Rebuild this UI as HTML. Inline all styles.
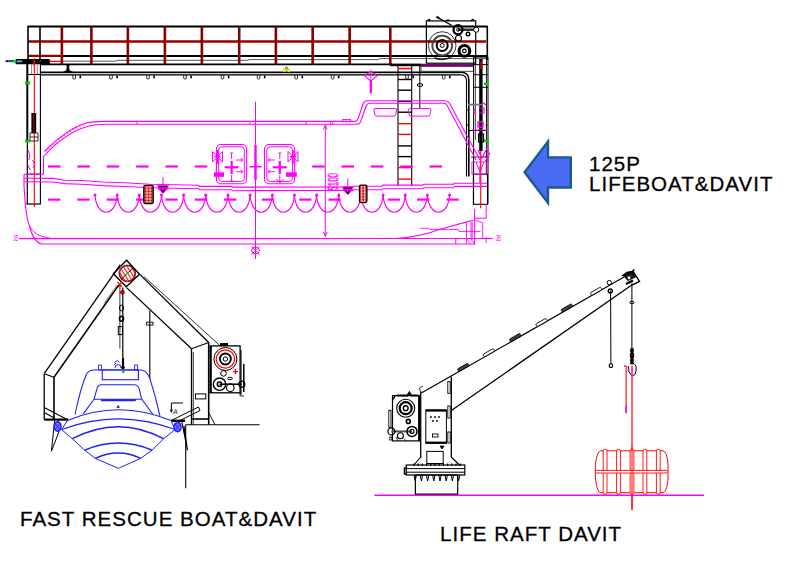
<!DOCTYPE html>
<html><head><meta charset="utf-8"><style>
html,body{margin:0;padding:0;background:#fff;}
body{width:790px;height:568px;overflow:hidden;position:relative;font-family:"Liberation Sans",sans-serif;}
svg{position:absolute;left:0;top:0;}
.t{position:absolute;font-size:20.5px;letter-spacing:1.03px;color:#000;white-space:nowrap;line-height:20px;-webkit-text-stroke:0.3px #000;}
</style></head><body>
<svg width="790" height="568" viewBox="0 0 790 568">
<line x1="28.0" y1="41.5" x2="486.0" y2="41.5" stroke="#9a0000" stroke-width="2.4" />
<line x1="28.0" y1="55.8" x2="62.0" y2="55.8" stroke="#9a0000" stroke-width="2.2" />
<line x1="27.5" y1="26.5" x2="487.5" y2="26.5" stroke="#000" stroke-width="2" />
<line x1="62.0" y1="56.0" x2="487.0" y2="56.0" stroke="#000" stroke-width="1.8" />
<path d="M50,61.2 L116,61.2 L117,60.3 L248,60.3 L249,59.6 L378,59.6 L380,58.6 L487,58.6" stroke="#555" stroke-width="1" fill="none" />
<line x1="40.0" y1="64.4" x2="392.0" y2="64.4" stroke="#000" stroke-width="1.8" />
<line x1="62.0" y1="26.5" x2="62.0" y2="64.5" stroke="#9a0000" stroke-width="2.4" />
<line x1="61.1" y1="27.0" x2="61.1" y2="64.0" stroke="#300" stroke-width="0.6" />
<line x1="91.5" y1="26.5" x2="91.5" y2="64.5" stroke="#9a0000" stroke-width="2.4" />
<line x1="90.6" y1="27.0" x2="90.6" y2="64.0" stroke="#300" stroke-width="0.6" />
<line x1="128.0" y1="26.5" x2="128.0" y2="64.5" stroke="#9a0000" stroke-width="2.4" />
<line x1="127.1" y1="27.0" x2="127.1" y2="64.0" stroke="#300" stroke-width="0.6" />
<line x1="165.0" y1="26.5" x2="165.0" y2="64.5" stroke="#9a0000" stroke-width="2.4" />
<line x1="164.1" y1="27.0" x2="164.1" y2="64.0" stroke="#300" stroke-width="0.6" />
<line x1="202.0" y1="26.5" x2="202.0" y2="64.5" stroke="#9a0000" stroke-width="2.4" />
<line x1="201.1" y1="27.0" x2="201.1" y2="64.0" stroke="#300" stroke-width="0.6" />
<line x1="239.3" y1="26.5" x2="239.3" y2="64.5" stroke="#9a0000" stroke-width="2.4" />
<line x1="238.4" y1="27.0" x2="238.4" y2="64.0" stroke="#300" stroke-width="0.6" />
<line x1="276.0" y1="26.5" x2="276.0" y2="64.5" stroke="#9a0000" stroke-width="2.4" />
<line x1="275.1" y1="27.0" x2="275.1" y2="64.0" stroke="#300" stroke-width="0.6" />
<line x1="312.8" y1="26.5" x2="312.8" y2="64.5" stroke="#9a0000" stroke-width="2.4" />
<line x1="311.9" y1="27.0" x2="311.9" y2="64.0" stroke="#300" stroke-width="0.6" />
<line x1="349.8" y1="26.5" x2="349.8" y2="64.5" stroke="#9a0000" stroke-width="2.4" />
<line x1="348.9" y1="27.0" x2="348.9" y2="64.0" stroke="#300" stroke-width="0.6" />
<line x1="390.4" y1="26.5" x2="390.4" y2="64.5" stroke="#9a0000" stroke-width="2.4" />
<line x1="389.5" y1="27.0" x2="389.5" y2="64.0" stroke="#300" stroke-width="0.6" />
<line x1="28.0" y1="26.0" x2="28.0" y2="64.0" stroke="#000" stroke-width="1.6" />
<line x1="40.0" y1="26.0" x2="40.0" y2="61.0" stroke="#000" stroke-width="1.6" />
<rect x="15.4" y="58.9" width="34.6" height="5.3" rx="1.5" stroke="#000" stroke-width="0" fill="#000" />
<line x1="5.6" y1="61.1" x2="15.4" y2="61.1" stroke="#203050" stroke-width="2.2" />
<line x1="8.0" y1="61.1" x2="12.5" y2="61.1" stroke="#3070c0" stroke-width="1.2" />
<circle cx="14.5" cy="61.1" r="1.5" stroke="#00e000" stroke-width="0" fill="#00e000"/>
<line x1="16.7" y1="61.4" x2="22.1" y2="61.4" stroke="#30d0f0" stroke-width="1.8" />
<line x1="34.1" y1="58.9" x2="34.1" y2="66.0" stroke="#ff0000" stroke-width="1.1" />
<circle cx="50.0" cy="61.2" r="0.9" stroke="#ff0000" stroke-width="0" fill="#ff0000"/>
<circle cx="40.4" cy="61.2" r="0.8" stroke="#ff0000" stroke-width="0" fill="#ff0000"/>
<line x1="50.0" y1="61.6" x2="62.0" y2="61.6" stroke="#ff0000" stroke-width="1" />
<line x1="31.6" y1="64.0" x2="31.6" y2="74.5" stroke="#888" stroke-width="1" />
<line x1="37.3" y1="64.0" x2="37.3" y2="74.5" stroke="#888" stroke-width="1" />
<rect x="41.0" y="72.8" width="419.0" height="2.0" rx="0" stroke="#000" stroke-width="0" fill="#d0d0d0" />
<path d="M41,72.3 L461,72.3 Q468.8,72.3 468.8,80 L468.8,176.5" stroke="#000" stroke-width="1.6" fill="none" />
<path d="M41,74.9 L460.5,74.9 Q466.5,74.9 466.5,81 L466.5,176.5" stroke="#000" stroke-width="1.1" fill="none" />
<circle cx="67.9" cy="65.3" r="1.5" stroke="#000" stroke-width="0" fill="#000"/>
<path d="M63.5,72 Q67,71.5 67,68 L67,66 L68.8,66 L68.8,68 Q68.8,71.5 72.5,72 Z" stroke="#000" stroke-width="0.6" fill="#000" />
<path d="M72.9,75 L72.9,78.5 Q74.2,79.8 75.5,78.5 L75.5,75" stroke="#000" stroke-width="0.8" fill="none" />
<rect x="79.5" y="75.5" width="1.6" height="2.8" rx="0" stroke="#000" stroke-width="0" fill="#000" />
<path d="M109.7,75 L109.7,78.5 Q111,79.8 112.3,78.5 L112.3,75" stroke="#000" stroke-width="0.8" fill="none" />
<rect x="116.3" y="75.5" width="1.6" height="2.8" rx="0" stroke="#000" stroke-width="0" fill="#000" />
<path d="M146.7,75 L146.7,78.5 Q148,79.8 149.3,78.5 L149.3,75" stroke="#000" stroke-width="0.8" fill="none" />
<rect x="153.3" y="75.5" width="1.6" height="2.8" rx="0" stroke="#000" stroke-width="0" fill="#000" />
<path d="M183.7,75 L183.7,78.5 Q185,79.8 186.3,78.5 L186.3,75" stroke="#000" stroke-width="0.8" fill="none" />
<rect x="190.3" y="75.5" width="1.6" height="2.8" rx="0" stroke="#000" stroke-width="0" fill="#000" />
<path d="M221.2,75 L221.2,78.5 Q222.5,79.8 223.8,78.5 L223.8,75" stroke="#000" stroke-width="0.8" fill="none" />
<rect x="227.8" y="75.5" width="1.6" height="2.8" rx="0" stroke="#000" stroke-width="0" fill="#000" />
<path d="M257.3,75 L257.3,78.5 Q258.6,79.8 259.90000000000003,78.5 L259.90000000000003,75" stroke="#000" stroke-width="0.8" fill="none" />
<rect x="263.9" y="75.5" width="1.6" height="2.8" rx="0" stroke="#000" stroke-width="0" fill="#000" />
<path d="M294.9,75 L294.9,78.5 Q296.2,79.8 297.5,78.5 L297.5,75" stroke="#000" stroke-width="0.8" fill="none" />
<rect x="301.5" y="75.5" width="1.6" height="2.8" rx="0" stroke="#000" stroke-width="0" fill="#000" />
<path d="M331.3,75 L331.3,78.5 Q332.6,79.8 333.90000000000003,78.5 L333.90000000000003,75" stroke="#000" stroke-width="0.8" fill="none" />
<rect x="337.9" y="75.5" width="1.6" height="2.8" rx="0" stroke="#000" stroke-width="0" fill="#000" />
<path d="M405.7,75 L405.7,78.5 Q407,79.8 408.3,78.5 L408.3,75" stroke="#000" stroke-width="0.8" fill="none" />
<rect x="412.3" y="75.5" width="1.6" height="2.8" rx="0" stroke="#000" stroke-width="0" fill="#000" />
<path d="M442.4,75 L442.4,78.5 Q443.7,79.8 445.0,78.5 L445.0,75" stroke="#000" stroke-width="0.8" fill="none" />
<rect x="449.0" y="75.5" width="1.6" height="2.8" rx="0" stroke="#000" stroke-width="0" fill="#000" />
<path d="M283.6,68.6 L289.4,72 L289.4,68.6 L283.6,72 Z" stroke="#e8e000" stroke-width="1" fill="#f0f000" />
<circle cx="286.5" cy="68.0" r="1.0" stroke="#000" stroke-width="0.6" fill="none"/>
<path d="M364.5,76 Q367,73 370.8,72 Q374.6,73 377,76 L370.8,81 Z" stroke="#ff00ff" stroke-width="1.1" fill="none" />
<line x1="370.8" y1="69.5" x2="370.8" y2="82.0" stroke="#ff00ff" stroke-width="0.9" />
<line x1="370.8" y1="80.0" x2="370.8" y2="93.4" stroke="#ff00ff" stroke-width="2.3" />
<rect x="426.4" y="20.9" width="49.3" height="42.3" rx="0" stroke="#000" stroke-width="1.2" fill="none" />
<path d="M427.5,20.9 Q429,18 430.5,20.9 M471.2,20.9 Q472.7,18 474.2,20.9 M446.5,20.9 Q448,18.8 449.5,20.9" stroke="#000" stroke-width="1.2" fill="none" />
<line x1="437.3" y1="17.4" x2="451.6" y2="25.3" stroke="#000" stroke-width="1.3" />
<path d="M436.5,16.5 L439,18.5" stroke="#000" stroke-width="2" fill="none" />
<circle cx="442.2" cy="45.5" r="13.8" stroke="#000" stroke-width="0.8" fill="none"/>
<circle cx="442.2" cy="45.5" r="9.9" stroke="#444" stroke-width="1.8" fill="none"/>
<circle cx="442.2" cy="45.5" r="5.5" stroke="#000" stroke-width="2" fill="none"/>
<circle cx="442.2" cy="45.5" r="2.0" stroke="#000" stroke-width="1" fill="none"/>
<path d="M434,58 Q442,62 452,57" stroke="#000" stroke-width="0.8" fill="none"/>
<line x1="458.0" y1="29.7" x2="476.0" y2="29.7" stroke="#333" stroke-width="2.6" />
<circle cx="458.0" cy="29.7" r="4.5" stroke="#000" stroke-width="2.2" fill="none"/>
<circle cx="458.0" cy="29.7" r="1.5" stroke="#000" stroke-width="1" fill="none"/>
<circle cx="476.2" cy="29.7" r="2.6" stroke="#000" stroke-width="1" fill="#fff"/>
<circle cx="468.0" cy="34.0" r="1.8" stroke="#000" stroke-width="1.4" fill="none"/>
<circle cx="458.5" cy="38.3" r="3.0" stroke="#000" stroke-width="1.1" fill="none"/>
<circle cx="464.4" cy="50.9" r="5.0" stroke="#000" stroke-width="2.4" fill="none"/>
<circle cx="464.4" cy="50.9" r="6.3" stroke="#000" stroke-width="1.2" fill="none"/>
<circle cx="464.4" cy="50.9" r="1.8" stroke="#000" stroke-width="1.2" fill="none"/>
<line x1="487.3" y1="26.0" x2="487.3" y2="60.0" stroke="#000" stroke-width="1.6" />
<line x1="390.0" y1="64.9" x2="421.0" y2="64.9" stroke="#000" stroke-width="2.6" />
<line x1="421.0" y1="64.9" x2="473.5" y2="64.9" stroke="#800080" stroke-width="2.4" />
<rect x="421.0" y="66.4" width="52.4" height="4.9" rx="0" stroke="#333" stroke-width="0.9" fill="none" />
<line x1="419.7" y1="64.7" x2="419.7" y2="72.3" stroke="#000" stroke-width="1" />
<line x1="473.6" y1="64.7" x2="473.6" y2="72.3" stroke="#000" stroke-width="1" />
<line x1="401.0" y1="68.5" x2="412.0" y2="68.5" stroke="#ff0000" stroke-width="1.2" />
<line x1="398.0" y1="66.0" x2="398.0" y2="186.0" stroke="#000" stroke-width="1.1" />
<line x1="411.7" y1="66.0" x2="411.7" y2="186.0" stroke="#000" stroke-width="1.1" />
<line x1="398.0" y1="68.5" x2="411.7" y2="68.5" stroke="#ff0000" stroke-width="1.4" />
<line x1="398.0" y1="79.5" x2="411.7" y2="79.5" stroke="#000" stroke-width="1.4" />
<line x1="398.0" y1="90.2" x2="411.7" y2="90.2" stroke="#000" stroke-width="1.4" />
<line x1="398.0" y1="101.2" x2="411.7" y2="101.2" stroke="#000" stroke-width="1.4" />
<line x1="398.0" y1="112.2" x2="411.7" y2="112.2" stroke="#000" stroke-width="1.4" />
<line x1="398.0" y1="123.7" x2="411.7" y2="123.7" stroke="#ff0000" stroke-width="1.4" />
<line x1="398.0" y1="134.4" x2="411.7" y2="134.4" stroke="#ff0000" stroke-width="1.4" />
<line x1="398.0" y1="145.9" x2="411.7" y2="145.9" stroke="#000" stroke-width="1.4" />
<line x1="398.0" y1="156.6" x2="411.7" y2="156.6" stroke="#000" stroke-width="1.4" />
<line x1="398.0" y1="167.6" x2="411.7" y2="167.6" stroke="#ff0000" stroke-width="1.4" />
<line x1="398.0" y1="179.1" x2="411.7" y2="179.1" stroke="#ff0000" stroke-width="1.4" />
<line x1="419.8" y1="72.0" x2="419.8" y2="108.0" stroke="#000" stroke-width="1" />
<ellipse cx="420" cy="85" rx="2.8" ry="1.5" stroke="#000" stroke-width="1" fill="none"/>
<line x1="27.3" y1="64.0" x2="27.3" y2="140.0" stroke="#000" stroke-width="2" />
<line x1="27.3" y1="140.0" x2="27.3" y2="204.0" stroke="#000" stroke-width="1.2" />
<line x1="40.4" y1="64.0" x2="40.4" y2="204.0" stroke="#000" stroke-width="1.1" />
<line x1="26.5" y1="74.5" x2="40.5" y2="74.5" stroke="#000" stroke-width="1" />
<line x1="26.5" y1="204.0" x2="40.8" y2="204.0" stroke="#000" stroke-width="1.2" />
<line x1="26.5" y1="174.0" x2="40.8" y2="174.0" stroke="#000" stroke-width="0.8" />
<line x1="34.3" y1="58.0" x2="34.3" y2="207.0" stroke="#ff0000" stroke-width="1.1" />
<rect x="31.4" y="113.0" width="4.8" height="20.0" rx="0" stroke="#000" stroke-width="0" fill="#000" />
<line x1="33.8" y1="113.0" x2="33.8" y2="133.0" stroke="#800000" stroke-width="1.5" />
<path d="M30,133 L38,133 L38,141 L30,141 Z M30,137 L38,137" stroke="#000" stroke-width="0.8" fill="none" />
<path d="M25,142 L30,140 M25,140 L30,142" stroke="#00d000" stroke-width="1.5" fill="none" />
<path d="M25,84 L30,82 M25,82 L30,84" stroke="#00d000" stroke-width="1.5" fill="none" />
<path d="M28,150 Q31,155 29,160 M32,160 Q36,163 33,168 M28,165 L30,170" stroke="#ff00ff" stroke-width="1" fill="none" />
<line x1="473.6" y1="57.0" x2="473.6" y2="204.0" stroke="#000" stroke-width="1" />
<line x1="475.4" y1="57.0" x2="475.4" y2="140.0" stroke="#000" stroke-width="0.7" />
<line x1="480.9" y1="59.0" x2="480.9" y2="151.0" stroke="#000" stroke-width="3.4" />
<rect x="478.5" y="134.0" width="5.0" height="8.0" rx="0" stroke="#000" stroke-width="1.1" fill="none" />
<line x1="486.5" y1="57.0" x2="486.5" y2="175.0" stroke="#000" stroke-width="0.9" />
<line x1="488.0" y1="57.0" x2="488.0" y2="204.0" stroke="#000" stroke-width="1" />
<line x1="474.0" y1="57.1" x2="488.0" y2="57.1" stroke="#000" stroke-width="1" />
<line x1="474.0" y1="64.6" x2="488.0" y2="64.6" stroke="#000" stroke-width="1" />
<line x1="474.0" y1="74.7" x2="488.0" y2="74.7" stroke="#000" stroke-width="1" />
<line x1="474.0" y1="87.3" x2="488.0" y2="87.3" stroke="#000" stroke-width="1" />
<line x1="468.0" y1="104.6" x2="482.0" y2="104.6" stroke="#777" stroke-width="1.8" />
<line x1="469.0" y1="130.5" x2="486.0" y2="130.5" stroke="#000" stroke-width="1" />
<line x1="471.0" y1="157.0" x2="488.0" y2="157.0" stroke="#000" stroke-width="0.8" />
<rect x="473.4" y="174.2" width="14.1" height="30.1" rx="0" stroke="#000" stroke-width="1.1" fill="none" />
<line x1="480.7" y1="151.0" x2="480.7" y2="208.2" stroke="#ff0000" stroke-width="1.1" />
<line x1="481.0" y1="61.5" x2="481.0" y2="69.0" stroke="#ff0000" stroke-width="1.3" />
<path d="M484,84.5 L489,83 M484,83 L489,84.5" stroke="#00d000" stroke-width="1.6" fill="none" />
<path d="M484,141.5 L489,140 M484,140 L489,141.5" stroke="#00d000" stroke-width="1.6" fill="none" />
<path d="M476,108 L474,110 L474,113 L476,114 M479,108 L484,108 L484,113 L479,113 M482,102 L486,105" stroke="#ff00ff" stroke-width="1.2" fill="none" />
<path d="M478,122 L483,122 L483,127 L478,127 Z" stroke="#ff00ff" stroke-width="1.4" fill="none" />
<path d="M472,130 L487,130" stroke="#ff00ff" stroke-width="1" fill="none" />
<circle cx="468.0" cy="110.0" r="0.8" stroke="#000" stroke-width="0" fill="#000"/>
<circle cx="468.0" cy="125.0" r="0.8" stroke="#000" stroke-width="0" fill="#000"/>
<circle cx="486.5" cy="110.0" r="0.8" stroke="#000" stroke-width="0" fill="#000"/>
<circle cx="486.5" cy="125.0" r="0.8" stroke="#000" stroke-width="0" fill="#000"/>
<path d="M478,150 L482,158 L486,150 M486,148 L490,155" stroke="#ff00ff" stroke-width="1.3" fill="none" />
<path d="M44.5,151.5 C55,141 70,128 86,123 Q92,121.4 104,121.4 L355,121.4 Q357,121.4 358,119 L363,104 Q364,100.8 367,100.8 L445,100.8 Q448,100.8 449.5,103.2 L480,160" stroke="#ff00ff" stroke-width="1.1" fill="none" />
<path d="M43.5,174 L43.5,156.5 C53,146 72,128 96,124.8 Q100,124.3 106,124.3 L357,124.3 Q359.5,124.3 360.5,122 L366,106.5 Q367,103.2 370,103.2 L443.5,103.2 Q446,103.2 447,105.2 L476,160" stroke="#ff00ff" stroke-width="1.1" fill="none" />
<line x1="45.2" y1="149.6" x2="47.4" y2="151.8" stroke="#ff00ff" stroke-width="0.8" />
<line x1="47.5" y1="147.4" x2="49.7" y2="149.6" stroke="#ff00ff" stroke-width="0.8" />
<line x1="49.8" y1="145.2" x2="52.0" y2="147.4" stroke="#ff00ff" stroke-width="0.8" />
<line x1="52.3" y1="142.9" x2="54.5" y2="145.1" stroke="#ff00ff" stroke-width="0.8" />
<line x1="54.9" y1="140.7" x2="57.1" y2="142.9" stroke="#ff00ff" stroke-width="0.8" />
<line x1="57.6" y1="138.4" x2="59.8" y2="140.6" stroke="#ff00ff" stroke-width="0.8" />
<line x1="60.4" y1="136.2" x2="62.6" y2="138.4" stroke="#ff00ff" stroke-width="0.8" />
<line x1="63.3" y1="134.1" x2="65.5" y2="136.3" stroke="#ff00ff" stroke-width="0.8" />
<line x1="66.2" y1="132.0" x2="68.4" y2="134.2" stroke="#ff00ff" stroke-width="0.8" />
<line x1="69.2" y1="130.1" x2="71.4" y2="132.3" stroke="#ff00ff" stroke-width="0.8" />
<line x1="72.3" y1="128.3" x2="74.5" y2="130.5" stroke="#ff00ff" stroke-width="0.8" />
<line x1="75.4" y1="126.6" x2="77.6" y2="128.8" stroke="#ff00ff" stroke-width="0.8" />
<line x1="78.6" y1="125.0" x2="80.8" y2="127.2" stroke="#ff00ff" stroke-width="0.8" />
<line x1="81.8" y1="123.7" x2="84.0" y2="125.9" stroke="#ff00ff" stroke-width="0.8" />
<path d="M471.9,162 L486.2,162 L486.2,174.1 L471.9,174.1 Z" stroke="#ff00ff" stroke-width="0.9" fill="none" />
<path d="M476,162 L480,172 L484,162 M479.8,166 L479.8,183" stroke="#ff00ff" stroke-width="1" fill="none" />
<path d="M485,156 L489,161 M485,161 L489,156" stroke="#ff00ff" stroke-width="1.2" fill="none" />
<path d="M375,108.5 L395.5,108.5 Q397,108.5 396.6,110 L395.6,115 Q395.4,116.1 394,116.1 L376.5,116.1 Q375.1,116.1 374.9,115 L374,110 Q373.8,108.5 375,108.5 Z" stroke="#ff00ff" stroke-width="1" fill="none" />
<path d="M409.3,108.5 L429.8,108.5 Q431.2,108.5 430.9,110 L429.9,115 Q429.7,116.1 428.3,116.1 L410.8,116.1 Q409.4,116.1 409.2,115 L408.3,110 Q408.1,108.5 409.3,108.5 Z" stroke="#ff00ff" stroke-width="1" fill="none" />
<rect x="342.6" y="119.5" width="8.0" height="2.2" rx="0" stroke="#ff00ff" stroke-width="0.9" fill="none" />
<line x1="137.0" y1="121.4" x2="137.0" y2="124.3" stroke="#ff00ff" stroke-width="0.9" />
<line x1="250.0" y1="121.4" x2="250.0" y2="124.3" stroke="#ff00ff" stroke-width="0.9" />
<line x1="306.0" y1="121.4" x2="306.0" y2="124.3" stroke="#ff00ff" stroke-width="0.9" />
<rect x="330.3" y="121.6" width="2.6" height="2.6" rx="0" stroke="#ff00ff" stroke-width="0.8" fill="none" />
<path d="M24,174.4 L43.5,174.4" stroke="#ff00ff" stroke-width="1.1" fill="none" />
<path d="M24,178.3 L53,178.4 L65,180.2 L81,180.5 L103,182 L125,182.7 L150,184.3 L198.6,185.3 L199.5,186.4 L231.6,186.4 L232.5,187.1 L352.9,187 L353.8,186.2 L382,186.2 L383,185.1 L423,185.1 L424,184.2 L453.7,184.2 L454.6,183.3 L487.3,183.3" stroke="#ff00ff" stroke-width="1.1" fill="none" />
<path d="M24,181.7 L53,182 L65,183.6 L81,184.2 L103,185.6 L125,186.5 L150,187.7 L198.6,188.7 L199.5,189.8 L231.6,189.8 L232.5,190.7 L352.9,190.5 L353.8,189.8 L382,189.8 L383,188.7 L423,188.6 L424,187.7 L453.7,187.7 L454.6,186.4 L487.3,186.4" stroke="#ff00ff" stroke-width="1.1" fill="none" />
<path d="M24,174.4 L24,185 C25,205 27,220 29.5,226 C32,236 36,243 42,244" stroke="#ff00ff" stroke-width="1.1" fill="none" />
<path d="M29.5,226 C33,233 40,237 50.5,238.2" stroke="#ff00ff" stroke-width="1" fill="none" />
<line x1="42.0" y1="244.0" x2="475.0" y2="244.0" stroke="#ff00ff" stroke-width="1.2" />
<path d="M19,238.6 L395.7,238.5 Q420,237 440,229.2 L470.5,220.8" stroke="#ff00ff" stroke-width="1.2" fill="none" />
<path d="M420.5,228.3 L428.5,228.3 L429.5,229.4 L458,229.4 L459,231.4 L480.6,231.4" stroke="#ff00ff" stroke-width="0.9" fill="none" />
<line x1="395.0" y1="238.5" x2="492.8" y2="238.5" stroke="#ff00ff" stroke-width="1.1" />
<line x1="455.8" y1="238.5" x2="455.8" y2="244.0" stroke="#ff00ff" stroke-width="1" />
<path d="M486.2,204 L486.2,218.2 L474.6,218.2" stroke="#ff00ff" stroke-width="1" fill="none" />
<line x1="474.6" y1="209.1" x2="474.6" y2="245.0" stroke="#ff00ff" stroke-width="1" />
<path d="M466.5,222.5 L466.5,244 M471,221.5 L471,236 Q471,241 474.6,244 M472.2,221.5 L472.2,238" stroke="#ff00ff" stroke-width="0.9" fill="none" />
<path d="M470.5,220.8 L474.6,220 L482.7,222.8 L482.7,239" stroke="#ff00ff" stroke-width="0.9" fill="none" />
<line x1="486.2" y1="237.0" x2="486.2" y2="243.0" stroke="#ff00ff" stroke-width="0.9" />
<path d="M466.5,238.5 L470,243.5" stroke="#ff00ff" stroke-width="0.8" fill="none" />
<text x="13" y="240.8" font-family="Liberation Sans, sans-serif" font-size="8.5" fill="#ff00ff" textLength="5.2" lengthAdjust="spacingAndGlyphs">JB</text>
<text x="495.5" y="241" font-family="Liberation Sans, sans-serif" font-size="8.5" fill="#ff00ff" textLength="5.5" lengthAdjust="spacingAndGlyphs">JB</text>
<line x1="48.0" y1="166.5" x2="60.5" y2="166.5" stroke="#ff00ff" stroke-width="2.2" />
<line x1="77.3" y1="166.5" x2="89.8" y2="166.5" stroke="#ff00ff" stroke-width="2.2" />
<line x1="106.7" y1="166.5" x2="119.2" y2="166.5" stroke="#ff00ff" stroke-width="2.2" />
<line x1="136.1" y1="166.5" x2="148.6" y2="166.5" stroke="#ff00ff" stroke-width="2.2" />
<line x1="165.4" y1="166.5" x2="177.9" y2="166.5" stroke="#ff00ff" stroke-width="2.2" />
<line x1="194.8" y1="166.5" x2="207.2" y2="166.5" stroke="#ff00ff" stroke-width="2.2" />
<line x1="312.2" y1="166.5" x2="324.7" y2="166.5" stroke="#ff00ff" stroke-width="2.2" />
<line x1="341.5" y1="166.5" x2="354.0" y2="166.5" stroke="#ff00ff" stroke-width="2.2" />
<line x1="370.9" y1="166.5" x2="383.4" y2="166.5" stroke="#ff00ff" stroke-width="2.2" />
<line x1="400.2" y1="166.5" x2="412.7" y2="166.5" stroke="#ff00ff" stroke-width="2.2" />
<line x1="429.6" y1="166.5" x2="442.1" y2="166.5" stroke="#ff00ff" stroke-width="2.2" />
<line x1="48.0" y1="199.6" x2="60.3" y2="199.6" stroke="#ff00ff" stroke-width="2.2" />
<line x1="77.3" y1="199.6" x2="89.6" y2="199.6" stroke="#ff00ff" stroke-width="2.2" />
<line x1="106.7" y1="199.6" x2="119.0" y2="199.6" stroke="#ff00ff" stroke-width="2.2" />
<line x1="136.1" y1="199.6" x2="148.4" y2="199.6" stroke="#ff00ff" stroke-width="2.2" />
<line x1="165.4" y1="199.6" x2="177.7" y2="199.6" stroke="#ff00ff" stroke-width="2.2" />
<line x1="194.8" y1="199.6" x2="207.1" y2="199.6" stroke="#ff00ff" stroke-width="2.2" />
<line x1="224.1" y1="199.6" x2="236.4" y2="199.6" stroke="#ff00ff" stroke-width="2.2" />
<line x1="261.8" y1="199.6" x2="274.0" y2="199.6" stroke="#ff00ff" stroke-width="2.2" />
<line x1="299.2" y1="199.6" x2="311.4" y2="199.6" stroke="#ff00ff" stroke-width="2.2" />
<line x1="328.5" y1="199.6" x2="340.7" y2="199.6" stroke="#ff00ff" stroke-width="2.2" />
<line x1="387.8" y1="199.6" x2="400.0" y2="199.6" stroke="#ff00ff" stroke-width="2.2" />
<line x1="417.0" y1="199.6" x2="429.2" y2="199.6" stroke="#ff00ff" stroke-width="2.2" />
<line x1="446.5" y1="199.6" x2="458.7" y2="199.6" stroke="#ff00ff" stroke-width="2.2" />
<path d="M95.0,195 C96.5,218 115.7,218 117.2,195" stroke="#ff00ff" stroke-width="1.2" fill="none" />
<path d="M117.2,195 C118.7,218 137.8,218 139.3,195" stroke="#ff00ff" stroke-width="1.2" fill="none" />
<path d="M139.3,195 C140.8,218 160.0,218 161.5,195" stroke="#ff00ff" stroke-width="1.2" fill="none" />
<path d="M161.5,195 C163.0,218 182.1,218 183.6,195" stroke="#ff00ff" stroke-width="1.2" fill="none" />
<path d="M183.6,195 C185.1,218 204.3,218 205.8,195" stroke="#ff00ff" stroke-width="1.2" fill="none" />
<path d="M205.8,195 C207.3,218 226.5,218 228.0,195" stroke="#ff00ff" stroke-width="1.2" fill="none" />
<path d="M228.0,195 C229.5,218 248.6,218 250.1,195" stroke="#ff00ff" stroke-width="1.2" fill="none" />
<path d="M250.1,195 C251.6,218 270.8,218 272.3,195" stroke="#ff00ff" stroke-width="1.2" fill="none" />
<path d="M272.3,195 C273.8,218 292.9,218 294.4,195" stroke="#ff00ff" stroke-width="1.2" fill="none" />
<path d="M294.4,195 C295.9,218 315.1,218 316.6,195" stroke="#ff00ff" stroke-width="1.2" fill="none" />
<path d="M316.6,195 C318.1,218 337.3,218 338.8,195" stroke="#ff00ff" stroke-width="1.2" fill="none" />
<path d="M338.8,195 C340.3,218 359.4,218 360.9,195" stroke="#ff00ff" stroke-width="1.2" fill="none" />
<path d="M360.9,195 C362.4,218 381.6,218 383.1,195" stroke="#ff00ff" stroke-width="1.2" fill="none" />
<path d="M383.1,195 C384.6,218 403.7,218 405.2,195" stroke="#ff00ff" stroke-width="1.2" fill="none" />
<path d="M405.2,195 C406.7,218 425.9,218 427.4,195" stroke="#ff00ff" stroke-width="1.2" fill="none" />
<path d="M427.4,195 C428.9,218 448.1,218 449.6,195" stroke="#ff00ff" stroke-width="1.2" fill="none" />
<circle cx="95.0" cy="195.0" r="1.5" stroke="#ff00ff" stroke-width="0" fill="#ff00ff"/>
<circle cx="117.2" cy="195.0" r="1.5" stroke="#ff00ff" stroke-width="0" fill="#ff00ff"/>
<circle cx="139.3" cy="195.0" r="1.5" stroke="#ff00ff" stroke-width="0" fill="#ff00ff"/>
<circle cx="161.5" cy="195.0" r="1.5" stroke="#ff00ff" stroke-width="0" fill="#ff00ff"/>
<circle cx="183.6" cy="195.0" r="1.5" stroke="#ff00ff" stroke-width="0" fill="#ff00ff"/>
<circle cx="205.8" cy="195.0" r="1.5" stroke="#ff00ff" stroke-width="0" fill="#ff00ff"/>
<circle cx="228.0" cy="195.0" r="1.5" stroke="#ff00ff" stroke-width="0" fill="#ff00ff"/>
<circle cx="250.1" cy="195.0" r="1.5" stroke="#ff00ff" stroke-width="0" fill="#ff00ff"/>
<circle cx="272.3" cy="195.0" r="1.5" stroke="#ff00ff" stroke-width="0" fill="#ff00ff"/>
<circle cx="294.4" cy="195.0" r="1.5" stroke="#ff00ff" stroke-width="0" fill="#ff00ff"/>
<circle cx="316.6" cy="195.0" r="1.5" stroke="#ff00ff" stroke-width="0" fill="#ff00ff"/>
<circle cx="338.8" cy="195.0" r="1.5" stroke="#ff00ff" stroke-width="0" fill="#ff00ff"/>
<circle cx="360.9" cy="195.0" r="1.5" stroke="#ff00ff" stroke-width="0" fill="#ff00ff"/>
<circle cx="383.1" cy="195.0" r="1.5" stroke="#ff00ff" stroke-width="0" fill="#ff00ff"/>
<circle cx="405.2" cy="195.0" r="1.5" stroke="#ff00ff" stroke-width="0" fill="#ff00ff"/>
<circle cx="427.4" cy="195.0" r="1.5" stroke="#ff00ff" stroke-width="0" fill="#ff00ff"/>
<circle cx="449.6" cy="195.0" r="1.5" stroke="#ff00ff" stroke-width="0" fill="#ff00ff"/>
<rect x="216.4" y="144.5" width="30.2" height="39.2" rx="4.5" stroke="#ff00ff" stroke-width="1.1" fill="none" />
<rect x="218.7" y="146.8" width="25.6" height="34.6" rx="3" stroke="#ff00ff" stroke-width="1" fill="none" />
<rect x="264.5" y="144.5" width="30.2" height="39.2" rx="4.5" stroke="#ff00ff" stroke-width="1.1" fill="none" />
<rect x="266.8" y="146.8" width="25.6" height="34.6" rx="3" stroke="#ff00ff" stroke-width="1" fill="none" />
<line x1="224.6" y1="167.3" x2="238.6" y2="167.3" stroke="#ff00ff" stroke-width="2.2" />
<line x1="231.6" y1="161.0" x2="231.6" y2="174.0" stroke="#ff00ff" stroke-width="2.2" />
<line x1="231.6" y1="153.0" x2="231.6" y2="159.0" stroke="#ff00ff" stroke-width="1" />
<line x1="231.6" y1="175.0" x2="231.6" y2="181.0" stroke="#ff00ff" stroke-width="1" />
<line x1="272.8" y1="167.3" x2="286.8" y2="167.3" stroke="#ff00ff" stroke-width="2.2" />
<line x1="279.8" y1="161.0" x2="279.8" y2="174.0" stroke="#ff00ff" stroke-width="2.2" />
<line x1="279.8" y1="153.0" x2="279.8" y2="159.0" stroke="#ff00ff" stroke-width="1" />
<line x1="279.8" y1="175.0" x2="279.8" y2="181.0" stroke="#ff00ff" stroke-width="1" />
<rect x="213.9" y="172.3" width="10.1" height="4.5" rx="0" stroke="#ff00ff" stroke-width="0" fill="#ff00ff" />
<rect x="286.0" y="172.3" width="10.8" height="4.5" rx="0" stroke="#ff00ff" stroke-width="0" fill="#ff00ff" />
<path d="M212.5,151.5 L222.5,162 M212.5,162 L222.5,151.5 M212.5,151.5 L212.5,162 M222.5,151.5 L222.5,162" stroke="#ff00ff" stroke-width="1" fill="none" />
<path d="M214.5,156.8 L220.5,156.8 M217.5,150 L217.5,164" stroke="#ff00ff" stroke-width="1.6" fill="none" />
<path d="M288,151.5 L298,162 M288,162 L298,151.5 M288,151.5 L288,162 M298,151.5 L298,162" stroke="#ff00ff" stroke-width="1" fill="none" />
<path d="M290,156.8 L296,156.8 M293,150 L293,164" stroke="#ff00ff" stroke-width="1.6" fill="none" />
<path d="M236,160 L243,160 M240.5,158.3 L243,160 L240.5,161.7 M236,171.7 L243,171.7 M240.5,170 L243,171.7 L240.5,173.4 M230,153 L233.2,153 M230,181 L233.2,181" stroke="#ff00ff" stroke-width="0.9" fill="none" />
<path d="M268,160 L275,160 M270.5,158.3 L268,160 L270.5,161.7 M268,171.7 L275,171.7 M270.5,170 L268,171.7 L270.5,173.4 M278.2,153 L281.4,153 M278.2,181 L281.4,181 M276,179 L279.8,183 L283.5,179" stroke="#ff00ff" stroke-width="0.9" fill="none" />
<line x1="255.5" y1="101.8" x2="255.5" y2="259.0" stroke="#ff00ff" stroke-width="1" />
<line x1="255.5" y1="145.0" x2="255.5" y2="180.0" stroke="#ff00ff" stroke-width="2.4" />
<line x1="249.5" y1="166.8" x2="261.5" y2="166.8" stroke="#ff00ff" stroke-width="1.5" />
<path d="M251.3,246.5 L259.7,254.7 M251.3,254.7 L259.7,246.5" stroke="#ff00ff" stroke-width="0.9" fill="none" />
<ellipse cx="255.5" cy="250.6" rx="3.8" ry="3.3" stroke="#ff00ff" stroke-width="1.1" fill="none"/>
<line x1="325.3" y1="125.0" x2="325.3" y2="236.5" stroke="#ff00ff" stroke-width="1" />
<path d="M323.4,232 L325.3,236.5 L327.2,232" stroke="#ff00ff" stroke-width="0.9" fill="none" />
<path d="M323.4,129.5 L325.3,125 L327.2,129.5" stroke="#ff00ff" stroke-width="0.9" fill="none" />
<text x="0" y="0" font-family="Liberation Sans, sans-serif" font-size="15" fill="none" stroke="#ff00ff" stroke-width="0.8" textLength="17.5" lengthAdjust="spacingAndGlyphs" transform="translate(337.6,190.5) rotate(-90)">5100</text>
<rect x="143.8" y="185.3" width="9.4" height="18.2" rx="1.5" stroke="#000" stroke-width="1.3" fill="#ff5050" />
<line x1="144.8" y1="188.3" x2="152.2" y2="188.3" stroke="#300" stroke-width="0.7" />
<line x1="144.8" y1="191.4" x2="152.2" y2="191.4" stroke="#300" stroke-width="0.7" />
<line x1="144.8" y1="194.4" x2="152.2" y2="194.4" stroke="#300" stroke-width="0.7" />
<line x1="144.8" y1="197.4" x2="152.2" y2="197.4" stroke="#300" stroke-width="0.7" />
<line x1="144.8" y1="200.5" x2="152.2" y2="200.5" stroke="#300" stroke-width="0.7" />
<line x1="147.0" y1="186.3" x2="147.0" y2="202.5" stroke="#fff" stroke-width="0.7" />
<line x1="150.0" y1="186.3" x2="150.0" y2="202.5" stroke="#fff" stroke-width="0.7" />
<rect x="359.5" y="185.2" width="7.4" height="17.4" rx="1.5" stroke="#000" stroke-width="1.3" fill="#ff5050" />
<line x1="360.5" y1="188.1" x2="365.9" y2="188.1" stroke="#300" stroke-width="0.7" />
<line x1="360.5" y1="191.0" x2="365.9" y2="191.0" stroke="#300" stroke-width="0.7" />
<line x1="360.5" y1="193.9" x2="365.9" y2="193.9" stroke="#300" stroke-width="0.7" />
<line x1="360.5" y1="196.8" x2="365.9" y2="196.8" stroke="#300" stroke-width="0.7" />
<line x1="360.5" y1="199.7" x2="365.9" y2="199.7" stroke="#300" stroke-width="0.7" />
<line x1="361.7" y1="186.2" x2="361.7" y2="201.6" stroke="#fff" stroke-width="0.7" />
<line x1="364.7" y1="186.2" x2="364.7" y2="201.6" stroke="#fff" stroke-width="0.7" />
<line x1="163.0" y1="177.2" x2="163.0" y2="185.2" stroke="#ff00ff" stroke-width="1" />
<path d="M157.5,185.2 L168.5,185.2 L167.5,189.2 L163,193.2 L158.5,189.2 Z" stroke="#ff00ff" stroke-width="0.5" fill="#ff00ff" />
<path d="M159,186.7 L167,186.7 M161,188.7 L163,192.2 L165,188.7" stroke="#300030" stroke-width="1.2" fill="none" />
<line x1="347.8" y1="178.6" x2="347.8" y2="186.6" stroke="#ff00ff" stroke-width="1" />
<path d="M342.3,186.6 L353.3,186.6 L352.3,190.6 L347.8,194.6 L343.3,190.6 Z" stroke="#ff00ff" stroke-width="0.5" fill="#ff00ff" />
<path d="M343.8,188.1 L351.8,188.1 M345.8,190.1 L347.8,193.6 L349.8,190.1" stroke="#300030" stroke-width="1.2" fill="none" />
<path d="M126.6,260.2 L139.5,274.2 L126.2,286.8 L113.4,273.8 Z" stroke="#000" stroke-width="1.4" fill="none" />
<clipPath id="hc"><circle cx="127.3" cy="273.4" r="7.6"/></clipPath>
<g clip-path="url(#hc)" stroke="#ff2020" stroke-width="1.1"><line x1="106.6" y1="264" x2="118.6" y2="283"/><line x1="110.4" y1="264" x2="122.4" y2="283"/><line x1="114.2" y1="264" x2="126.2" y2="283"/><line x1="118.0" y1="264" x2="130.0" y2="283"/><line x1="121.8" y1="264" x2="133.8" y2="283"/><line x1="125.6" y1="264" x2="137.6" y2="283"/><line x1="129.4" y1="264" x2="141.4" y2="283"/><line x1="133.2" y1="264" x2="145.2" y2="283"/></g>
<circle cx="127.3" cy="273.4" r="7.6" stroke="#ff0000" stroke-width="1.1" fill="none"/>
<circle cx="127.3" cy="273.4" r="8.3" stroke="#000" stroke-width="0.8" fill="none"/>
<line x1="121.0" y1="279.5" x2="133.5" y2="267.5" stroke="#000" stroke-width="0.9" />
<circle cx="127.8" cy="273.0" r="1.2" stroke="#00d000" stroke-width="0" fill="#00d000"/>
<path d="M117.5,282 L122,287 M117.5,287 L122,282" stroke="#ff0000" stroke-width="1.2" fill="none" />
<circle cx="120.5" cy="267.0" r="0.9" stroke="#c040c0" stroke-width="0" fill="#c040c0"/>
<line x1="120.3" y1="264.7" x2="44.2" y2="373.7" stroke="#000" stroke-width="1.3" />
<line x1="118.6" y1="285.3" x2="54.0" y2="377.2" stroke="#000" stroke-width="1.5" />
<line x1="117.0" y1="285.0" x2="104.0" y2="303.5" stroke="#555" stroke-width="0.7" />
<path d="M44.2,373.7 L54,377.2" stroke="#000" stroke-width="1.2" fill="none" />
<line x1="44.2" y1="373.7" x2="44.2" y2="419.5" stroke="#000" stroke-width="1.3" />
<line x1="54.0" y1="377.2" x2="54.0" y2="419.5" stroke="#000" stroke-width="1.6" />
<line x1="44.2" y1="419.6" x2="68.2" y2="419.6" stroke="#000" stroke-width="2.2" />
<line x1="44.7" y1="407.7" x2="68.1" y2="420.0" stroke="#000" stroke-width="1.1" />
<line x1="44.7" y1="412.7" x2="54.7" y2="418.2" stroke="#000" stroke-width="1.1" />
<path d="M54.7,420.2 L51.4,451.2 L58.9,432 L58.1,420.5" stroke="#000" stroke-width="1" fill="none" />
<ellipse cx="57.6" cy="426.5" rx="3.4" ry="4.6" stroke="#1f1fff" stroke-width="1.6" fill="#8080ff"/>
<path d="M55,423 L60,430 M55,430 L60,423" stroke="#1f1fff" stroke-width="1" fill="none" />
<line x1="139.8" y1="274.4" x2="208.7" y2="342.5" stroke="#000" stroke-width="1.3" />
<line x1="143.8" y1="276.4" x2="219.8" y2="345.5" stroke="#000" stroke-width="0.8" />
<line x1="126.6" y1="287.6" x2="191.5" y2="348.7" stroke="#000" stroke-width="1.3" />
<line x1="191.5" y1="348.7" x2="208.7" y2="342.5" stroke="#000" stroke-width="1.2" />
<line x1="191.5" y1="348.7" x2="191.5" y2="424.8" stroke="#000" stroke-width="1.3" />
<line x1="193.3" y1="352.0" x2="193.3" y2="424.8" stroke="#000" stroke-width="0.8" />
<line x1="208.7" y1="342.5" x2="208.7" y2="424.8" stroke="#000" stroke-width="1.6" />
<line x1="185.7" y1="424.8" x2="259.6" y2="424.8" stroke="#000" stroke-width="1.1" />
<line x1="185.7" y1="424.8" x2="185.7" y2="488.2" stroke="#000" stroke-width="1.1" />
<rect x="195.5" y="393.9" width="10.3" height="5.0" rx="0" stroke="#000" stroke-width="1" fill="none" />
<line x1="191.5" y1="419.0" x2="208.7" y2="419.0" stroke="#000" stroke-width="1.6" />
<path d="M209,413 L215,424.8" stroke="#000" stroke-width="0.9" fill="none" />
<path d="M171,420.6 L198.5,407 L200,410.5 L178,421.5" stroke="#000" stroke-width="1" fill="none" />
<line x1="171.0" y1="420.8" x2="185.0" y2="420.8" stroke="#000" stroke-width="2.4" />
<path d="M181.8,421.8 L187.5,450.4 L184,426" stroke="#000" stroke-width="1.1" fill="none" />
<ellipse cx="177.6" cy="427" rx="3.4" ry="4.6" stroke="#1f1fff" stroke-width="1.6" fill="#8080ff"/>
<path d="M175,423.5 L180,430.5 M175,430.5 L180,423.5" stroke="#1f1fff" stroke-width="1" fill="none" />
<path d="M171.4,412 L171.4,403 L183,403" stroke="#000" stroke-width="1" fill="none" />
<path d="M170.3,409.5 L171.4,412.3 L172.5,409.5" stroke="#000" stroke-width="0.8" fill="none" />
<text x="173" y="413.9" font-family="Liberation Sans, sans-serif" font-size="7" fill="#000" transform="skewX(-8) translate(58,0)">A</text>
<line x1="122.8" y1="287.5" x2="122.8" y2="368.0" stroke="#000" stroke-width="1.2" />
<line x1="119.9" y1="285.0" x2="119.9" y2="348.6" stroke="#000" stroke-width="0.8" />
<circle cx="122.5" cy="292.3" r="2.2" stroke="#000" stroke-width="0" fill="#600"/>
<circle cx="122.5" cy="292.3" r="1.2" stroke="#ff0000" stroke-width="0" fill="#ff0000"/>
<ellipse cx="121.5" cy="308" rx="2" ry="3" stroke="#000" stroke-width="1" fill="none"/>
<ellipse cx="121.5" cy="318.7" rx="2" ry="2.5" stroke="#000" stroke-width="1.5" fill="none"/>
<rect x="118.3" y="326.6" width="4.2" height="8.0" rx="0" stroke="#000" stroke-width="1" fill="none" />
<line x1="123.0" y1="358.0" x2="123.0" y2="368.0" stroke="#200" stroke-width="2.2" />
<circle cx="123.0" cy="367.5" r="1.8" stroke="#000" stroke-width="0" fill="#000"/>
<line x1="149.8" y1="310.8" x2="149.8" y2="378.4" stroke="#000" stroke-width="1.1" />
<rect x="146.6" y="322.2" width="6.4" height="2.8" rx="0" stroke="#000" stroke-width="0.9" fill="none" />
<rect x="210.3" y="345.9" width="29.8" height="46.9" rx="0" stroke="#000" stroke-width="1.3" fill="none" />
<line x1="210.8" y1="346.0" x2="210.8" y2="393.0" stroke="#000" stroke-width="2" />
<rect x="220.0" y="343.0" width="8.0" height="3.0" rx="0" stroke="#000" stroke-width="0" fill="#000" />
<circle cx="225.4" cy="359.0" r="11.5" stroke="#000" stroke-width="1" fill="none"/>
<circle cx="225.4" cy="359.0" r="9.2" stroke="#ff0000" stroke-width="1.2" fill="none"/>
<circle cx="225.4" cy="359.0" r="5.5" stroke="#000" stroke-width="1.8" fill="none"/>
<circle cx="225.4" cy="359.0" r="2.2" stroke="#000" stroke-width="1" fill="none"/>
<circle cx="223.5" cy="373.4" r="2.8" stroke="#000" stroke-width="1" fill="none"/>
<circle cx="219.5" cy="384.2" r="6.2" stroke="#000" stroke-width="1.4" fill="none"/>
<circle cx="219.5" cy="384.2" r="2.2" stroke="#000" stroke-width="1.5" fill="none"/>
<circle cx="230.3" cy="387.7" r="3.8" stroke="#000" stroke-width="1.2" fill="none"/>
<circle cx="241.8" cy="384.2" r="3.0" stroke="#000" stroke-width="1.2" fill="none"/>
<line x1="219.5" y1="384.2" x2="241.8" y2="384.2" stroke="#000" stroke-width="1.5" />
<ellipse cx="230" cy="378.5" rx="2.3" ry="1.2" stroke="#000" stroke-width="1" fill="none"/>
<path d="M233,371.6 L238,371.6 M235.5,369 L235.5,374.2" stroke="#ff0000" stroke-width="1.4" fill="none" />
<line x1="241.0" y1="350.0" x2="241.0" y2="395.0" stroke="#000" stroke-width="1.1" />
<line x1="243.8" y1="364.0" x2="243.8" y2="392.0" stroke="#000" stroke-width="1.5" />
<path d="M240,392 L240,396 L244,396" stroke="#000" stroke-width="0.8" fill="none" />
<path d="M75,414.5 C78,400 82,385 86.5,374 Q89,370 94,370 L140.9,370 Q146,370 149.7,377.8 C153,388 157,402 159.9,415.8" stroke="#1f1fff" stroke-width="1.1" fill="none" />
<rect x="102.3" y="369.9" width="36.1" height="9.8" rx="0" stroke="#1f1fff" stroke-width="1.1" fill="none" />
<rect x="98.5" y="365.1" width="2.9" height="4.8" rx="0" stroke="#1f1fff" stroke-width="0.9" fill="none" />
<rect x="134.6" y="365.1" width="3.0" height="4.8" rx="0" stroke="#1f1fff" stroke-width="0.9" fill="none" />
<path d="M115,368 Q115,364.5 118.3,364.5 Q121,364.5 121,368" stroke="#1f1fff" stroke-width="1" fill="none" />
<path d="M114.5,362.5 L117.5,360.5 L119.5,362.5 M116,363 L114,365" stroke="#1f1fff" stroke-width="1" fill="none" />
<path d="M83.3,413.9 L94,399.3 L97.2,387.9 Q98.5,384.7 101,384.7 L134.6,384.7 Q138.5,384.7 139.6,390.4 L141.5,398.7 L152.9,414.5" stroke="#1f1fff" stroke-width="1.1" fill="none" />
<line x1="94.0" y1="399.3" x2="141.5" y2="399.3" stroke="#1f1fff" stroke-width="1.1" />
<line x1="101.0" y1="400.3" x2="135.8" y2="400.3" stroke="#1f1fff" stroke-width="2" />
<path d="M116.8,407.5 L118.1,405.3 L119.4,407.5 Z" stroke="#1f1fff" stroke-width="0.8" fill="#1f1fff" />
<path d="M67.3,420.6 Q118.4,399 171,420.6" stroke="#1f1fff" stroke-width="1.1" fill="none" />
<path d="M61.6,429.6 Q118.4,408.2 175.1,429.6" stroke="#1f1fff" stroke-width="1.1" fill="none" />
<path d="M61.6,429.6 L72.3,438.7 L84.6,450.2 L95.3,458.4 L118.4,468.3 L140.6,458.4 L152.1,450.2 L163.6,438.7 L175.1,429.6" stroke="#1f1fff" stroke-width="1" fill="none" />
<path d="M72.3,438.7 Q118.4,414.7 163.6,438.7" stroke="#1f1fff" stroke-width="1.5" fill="none" />
<path d="M84.6,450.2 Q118.4,436 152.1,450.2" stroke="#1f1fff" stroke-width="1.5" fill="none" />
<path d="M95.3,458.4 Q118.4,447.6 140.6,458.4" stroke="#1f1fff" stroke-width="1.5" fill="none" />
<path d="M61.6,429.6 L67.3,420.6 M175.1,429.6 L171,420.6" stroke="#1f1fff" stroke-width="1" fill="none" />
<path d="M121.5,371 L125,371" stroke="#00c000" stroke-width="1.5" fill="none" />
<circle cx="123.2" cy="372.5" r="0.8" stroke="#ff0000" stroke-width="0" fill="#ff0000"/>
<line x1="422.3" y1="392.6" x2="624.0" y2="277.0" stroke="#000" stroke-width="1.2" />
<line x1="451.3" y1="410.5" x2="631.4" y2="285.3" stroke="#000" stroke-width="1.3" />
<path d="M622,276 L627,272.5 L633,271.2 L639.5,281.4 L631.4,285.3" stroke="#000" stroke-width="1.4" fill="none" />
<path d="M624,275.5 L632,272 L635,277 L628,280 Z" stroke="#000" stroke-width="1.6" fill="#222" />
<path d="M626,284 L633,280.5" stroke="#000" stroke-width="2.5" fill="none" />
<path d="M632.5,271 L634.5,269.5" stroke="#000" stroke-width="1.5" fill="none" />
<circle cx="629.0" cy="278.0" r="1.4" stroke="#fff" stroke-width="0" fill="#fff"/>
<circle cx="609.3" cy="282.6" r="2.2" stroke="#000" stroke-width="1" fill="none"/>
<rect x="-6" y="-3" width="12" height="3" rx="1" stroke="#000" stroke-width="0.8" fill="#444" transform="translate(464.0,368.7) rotate(-29.82)"/>
<rect x="-6" y="-3" width="12" height="3" rx="1" stroke="#000" stroke-width="0.8" fill="#fff" transform="translate(489.5,354.1) rotate(-29.82)"/>
<rect x="-6" y="-3" width="12" height="3" rx="1" stroke="#000" stroke-width="0.8" fill="#444" transform="translate(516.0,338.9) rotate(-29.82)"/>
<rect x="-6" y="-3" width="12" height="3" rx="1" stroke="#000" stroke-width="0.8" fill="#fff" transform="translate(542.3,323.8) rotate(-29.82)"/>
<rect x="-6" y="-3" width="12" height="3" rx="1" stroke="#000" stroke-width="0.8" fill="#444" transform="translate(567.6,309.3) rotate(-29.82)"/>
<rect x="-6" y="-3" width="12" height="3" rx="1" stroke="#000" stroke-width="0.8" fill="#fff" transform="translate(596.8,292.6) rotate(-29.82)"/>
<line x1="610.6" y1="290.6" x2="610.9" y2="364.0" stroke="#000" stroke-width="1" />
<circle cx="610.3" cy="291.0" r="2.0" stroke="#000" stroke-width="1.4" fill="none"/>
<rect x="609.3" y="364.0" width="3.2" height="3.4" rx="0.8" stroke="#000" stroke-width="1.1" fill="none" />
<line x1="631.9" y1="283.0" x2="631.9" y2="361.0" stroke="#000" stroke-width="1" />
<ellipse cx="631.9" cy="302.5" rx="2.2" ry="1.2" stroke="#000" stroke-width="1" fill="none"/>
<ellipse cx="632" cy="350.5" rx="1.3" ry="2.2" stroke="#000" stroke-width="1.2" fill="#000"/>
<ellipse cx="632" cy="355.5" rx="1.6" ry="2.6" stroke="#000" stroke-width="1.2" fill="#600"/>
<ellipse cx="632" cy="360.5" rx="1.3" ry="2.2" stroke="#000" stroke-width="1.2" fill="#300"/>
<path d="M630,363.5 L634,363.5" stroke="#000" stroke-width="1.5" fill="none" />
<path d="M628.2,366 Q627.5,372 632,376 Q636,375.5 636,371 Q637,366 634.5,364" stroke="#000" stroke-width="1" fill="none" />
<line x1="632.0" y1="365.4" x2="632.0" y2="510.0" stroke="#ff0000" stroke-width="1.2" />
<line x1="626.1" y1="365.8" x2="626.1" y2="413.3" stroke="#ff0000" stroke-width="1.1" />
<line x1="626.1" y1="406.0" x2="626.1" y2="413.0" stroke="#ff00ff" stroke-width="1.5" />
<circle cx="625.0" cy="366.0" r="1.0" stroke="#ff00ff" stroke-width="0" fill="#ff00ff"/>
<circle cx="628.5" cy="370.0" r="1.0" stroke="#ff00ff" stroke-width="0" fill="#ff00ff"/>
<circle cx="632.0" cy="369.5" r="1.0" stroke="#ff00ff" stroke-width="0" fill="#ff00ff"/>
<circle cx="632.0" cy="375.5" r="1.0" stroke="#ff00ff" stroke-width="0" fill="#ff00ff"/>
<line x1="420.7" y1="392.9" x2="420.7" y2="458.1" stroke="#000" stroke-width="1.3" />
<line x1="451.3" y1="376.5" x2="451.3" y2="457.0" stroke="#000" stroke-width="1.3" />
<line x1="420.7" y1="392.9" x2="422.3" y2="391.7" stroke="#000" stroke-width="1.2" />
<path d="M420.7,392.9 L419.5,388 L423,386" stroke="#000" stroke-width="0.8" fill="none" />
<rect x="447.8" y="381.6" width="2.4" height="11.7" rx="0" stroke="#000" stroke-width="0.9" fill="none" />
<rect x="447.8" y="406.0" width="2.4" height="12.0" rx="0" stroke="#000" stroke-width="0.9" fill="none" />
<rect x="447.8" y="432.0" width="2.4" height="11.0" rx="0" stroke="#000" stroke-width="0.9" fill="none" />
<rect x="425.8" y="410.0" width="20.6" height="33.2" rx="0" stroke="#000" stroke-width="1" fill="none" />
<line x1="425.8" y1="410.5" x2="446.4" y2="410.5" stroke="#000" stroke-width="2.2" />
<line x1="425.8" y1="442.7" x2="446.4" y2="442.7" stroke="#000" stroke-width="2.2" />
<circle cx="431.0" cy="417.0" r="0.9" stroke="#000" stroke-width="0" fill="#000"/>
<circle cx="435.0" cy="417.0" r="0.9" stroke="#000" stroke-width="0" fill="#000"/>
<circle cx="439.0" cy="417.0" r="0.9" stroke="#000" stroke-width="0" fill="#000"/>
<circle cx="433.0" cy="421.0" r="0.9" stroke="#000" stroke-width="0" fill="#000"/>
<circle cx="437.0" cy="421.0" r="0.9" stroke="#000" stroke-width="0" fill="#000"/>
<rect x="432.5" y="434.0" width="5.5" height="3.0" rx="0" stroke="#000" stroke-width="0.9" fill="none" />
<path d="M440,446 L442,449 L444,446 Z" stroke="#000" stroke-width="0.8" fill="#000" />
<rect x="426.8" y="451.4" width="16.4" height="12.1" rx="0" stroke="#000" stroke-width="1" fill="none" />
<path d="M420.7,457 L413.9,465 M451.3,457 L459.5,465" stroke="#000" stroke-width="1.1" fill="none" />
<rect x="406.3" y="465.0" width="58.5" height="10.0" rx="0" stroke="#000" stroke-width="1.2" fill="none" />
<line x1="406.3" y1="468.6" x2="464.8" y2="468.6" stroke="#000" stroke-width="1" />
<line x1="406.3" y1="472.2" x2="464.8" y2="472.2" stroke="#000" stroke-width="1" />
<line x1="414.0" y1="463.5" x2="414.0" y2="466.0" stroke="#000" stroke-width="1.2" />
<line x1="418.2" y1="463.5" x2="418.2" y2="466.0" stroke="#000" stroke-width="1.2" />
<line x1="422.4" y1="463.5" x2="422.4" y2="466.0" stroke="#000" stroke-width="1.2" />
<line x1="426.6" y1="463.5" x2="426.6" y2="466.0" stroke="#000" stroke-width="1.2" />
<line x1="430.8" y1="463.5" x2="430.8" y2="466.0" stroke="#000" stroke-width="1.2" />
<line x1="435.0" y1="463.5" x2="435.0" y2="466.0" stroke="#000" stroke-width="1.2" />
<line x1="439.2" y1="463.5" x2="439.2" y2="466.0" stroke="#000" stroke-width="1.2" />
<line x1="443.4" y1="463.5" x2="443.4" y2="466.0" stroke="#000" stroke-width="1.2" />
<line x1="447.6" y1="463.5" x2="447.6" y2="466.0" stroke="#000" stroke-width="1.2" />
<line x1="451.8" y1="463.5" x2="451.8" y2="466.0" stroke="#000" stroke-width="1.2" />
<line x1="456.0" y1="463.5" x2="456.0" y2="466.0" stroke="#000" stroke-width="1.2" />
<line x1="460.2" y1="463.5" x2="460.2" y2="466.0" stroke="#000" stroke-width="1.2" />
<path d="M414.0,475 L415.2,481 L416.4,475" stroke="#000" stroke-width="1" fill="none" />
<path d="M420.2,475 L421.4,481 L422.6,475" stroke="#000" stroke-width="1" fill="none" />
<path d="M426.4,475 L427.6,481 L428.8,475" stroke="#000" stroke-width="1" fill="none" />
<path d="M432.6,475 L433.8,481 L435.0,475" stroke="#000" stroke-width="1" fill="none" />
<path d="M438.8,475 L440.0,481 L441.2,475" stroke="#000" stroke-width="1" fill="none" />
<path d="M445.0,475 L446.2,481 L447.4,475" stroke="#000" stroke-width="1" fill="none" />
<path d="M451.2,475 L452.4,481 L453.6,475" stroke="#000" stroke-width="1" fill="none" />
<path d="M457.4,475 L458.6,481 L459.8,475" stroke="#000" stroke-width="1" fill="none" />
<path d="M406.3,468 L404.5,468 L404.5,474 L406.3,474" stroke="#000" stroke-width="1.5" fill="none" />
<rect x="415.4" y="475.0" width="42.3" height="20.0" rx="0" stroke="#000" stroke-width="1.2" fill="none" />
<line x1="415.4" y1="494.5" x2="457.7" y2="494.5" stroke="#000" stroke-width="1.8" />
<line x1="374.4" y1="495.2" x2="704.0" y2="495.2" stroke="#ff00ff" stroke-width="1.6" />
<rect x="392.5" y="395.6" width="26.9" height="45.3" rx="0" stroke="#000" stroke-width="1.2" fill="none" />
<line x1="418.9" y1="395.0" x2="418.9" y2="441.0" stroke="#000" stroke-width="1.6" />
<path d="M397.2,395.6 L407.5,395.6 L409.4,392.6 L411.3,395.6 L417.8,395.6" stroke="#000" stroke-width="2" fill="none" />
<line x1="392.5" y1="399.8" x2="395.1" y2="396.1" stroke="#000" stroke-width="1.5" />
<circle cx="405.7" cy="408.2" r="9.0" stroke="#000" stroke-width="1.1" fill="none"/>
<circle cx="405.7" cy="408.2" r="6.0" stroke="#000" stroke-width="2.2" fill="none"/>
<circle cx="405.7" cy="408.2" r="2.4" stroke="#000" stroke-width="1.4" fill="none"/>
<circle cx="408.3" cy="421.4" r="2.0" stroke="#000" stroke-width="1.6" fill="none"/>
<line x1="391.4" y1="431.4" x2="412.0" y2="431.4" stroke="#555" stroke-width="2" />
<circle cx="412.0" cy="431.4" r="5.0" stroke="#000" stroke-width="1.5" fill="none"/>
<circle cx="412.0" cy="431.4" r="2.0" stroke="#000" stroke-width="1.2" fill="none"/>
<circle cx="391.4" cy="431.4" r="3.5" stroke="#000" stroke-width="1.3" fill="none"/>
<circle cx="400.4" cy="435.7" r="3.0" stroke="#000" stroke-width="1.1" fill="none"/>
<rect x="388.8" y="410.3" width="2.2" height="17.0" rx="0" stroke="#000" stroke-width="0.9" fill="none" />
<rect x="389.8" y="437.0" width="2.0" height="3.0" rx="0" stroke="#000" stroke-width="0.8" fill="none" />
<path d="M396,437 L398,441 M404,438.5 L406,441" stroke="#000" stroke-width="0.8" fill="none" />
<path d="M600.5,450.8 L663,450.8 C667.5,452 668.5,464 668,471.6 C668.5,479 667.5,491.5 663,492.7 L600.5,492.7 C596.5,491.5 595,479 595.4,471.6 C595,464 596.5,452 600.5,450.8 Z" stroke="#ff0000" stroke-width="1" fill="none" />
<rect x="603.2" y="449.2" width="3.8" height="45.0" rx="1.9" stroke="#ff0000" stroke-width="0.9" fill="#fff" />
<rect x="616.6" y="449.2" width="3.8" height="45.0" rx="1.9" stroke="#ff0000" stroke-width="0.9" fill="#fff" />
<rect x="630.1" y="449.2" width="3.8" height="45.0" rx="1.9" stroke="#ff0000" stroke-width="0.9" fill="#fff" />
<rect x="643.0" y="449.2" width="3.8" height="45.0" rx="1.9" stroke="#ff0000" stroke-width="0.9" fill="#fff" />
<rect x="656.4" y="449.2" width="3.8" height="45.0" rx="1.9" stroke="#ff0000" stroke-width="0.9" fill="#fff" />
<rect x="595.4" y="470.4" width="72.2" height="2.6" rx="1.3" stroke="#ff0000" stroke-width="0.9" fill="#fff" />
<line x1="632.0" y1="447.0" x2="632.0" y2="510.0" stroke="#ff0000" stroke-width="1" />
<path d="M524.6,172.3 L548,141.5 L548,157.4 L570.8,157.4 L570.8,187.5 L548,187.5 L548,203 Z" fill="#4a6cf5" stroke="#1a5a8c" stroke-width="2.4" stroke-linejoin="miter"/>
</svg>
<div class="t" style="left:589px;top:153.5px;">125P</div>
<div class="t" style="left:589px;top:173.5px;">LIFEBOAT&amp;DAVIT</div>
<div class="t" style="left:20px;top:508.5px;">FAST RESCUE BOAT&amp;DAVIT</div>
<div class="t" style="left:440px;top:523.5px;">LIFE RAFT DAVIT</div>
</body></html>
